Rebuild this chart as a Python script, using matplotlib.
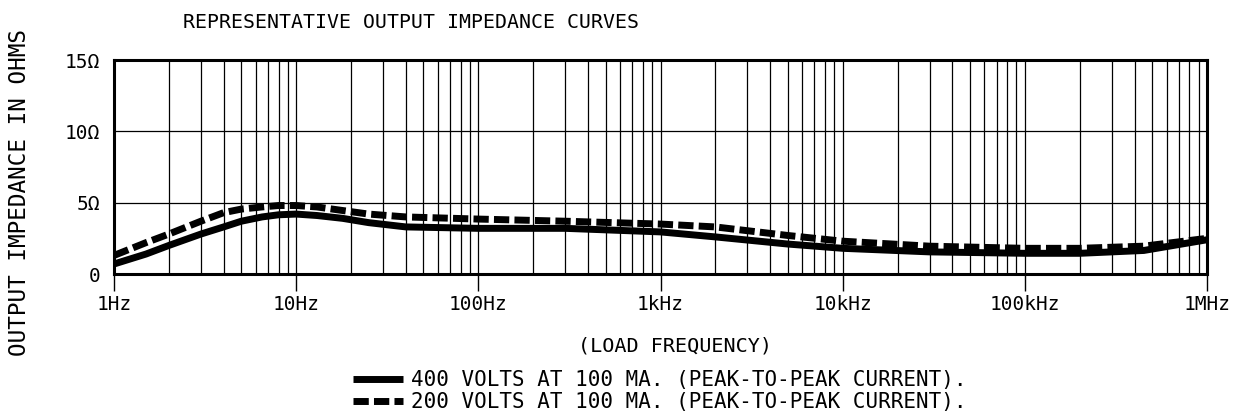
import numpy as np
import matplotlib
matplotlib.use("Agg")
import matplotlib.pyplot as plt
from matplotlib.ticker import FixedLocator, NullFormatter

# Load frequency (Hz) and output impedance (ohms)
freq_hz = [1, 1.5, 2, 3, 4, 5, 6.5, 8, 10, 13, 18, 25, 40, 100, 300, 1000,
           2000, 5000, 10000, 30000, 100000, 200000, 450000, 1000000]
z_400v = [0.7, 1.4, 2.0, 2.8, 3.3, 3.7, 4.0, 4.15, 4.2, 4.1, 3.9, 3.6, 3.3,
          3.2, 3.2, 2.95, 2.6, 2.1, 1.8, 1.55, 1.45, 1.45, 1.65, 2.4]
z_200v = [1.3, 2.2, 2.8, 3.7, 4.3, 4.55, 4.7, 4.8, 4.8, 4.7, 4.45, 4.2, 4.0,
          3.85, 3.7, 3.5, 3.3, 2.7, 2.3, 1.95, 1.8, 1.8, 1.95, 2.5]

x_ticks = [1, 10, 100, 1000, 10000, 100000, 1000000]
x_labels = ["1Hz", "10Hz", "100Hz", "1kHz", "10kHz", "100kHz", "1MHz"]
y_ticks = [0, 5, 10, 15]
y_labels = ["0", "5Ω", "10Ω", "15Ω"]

series_labels = ["400 VOLTS AT 100 MA. (PEAK-TO-PEAK CURRENT).",
                 "200 VOLTS AT 100 MA. (PEAK-TO-PEAK CURRENT)."]

plt.rcParams['font.family'] = ['DejaVu Sans Mono', 'DejaVu Sans']

fig = plt.figure(figsize=(12.35, 4.16), dpi=100)
ax = fig.add_axes([114 / 1235, 1 - 274 / 416, (1207 - 114) / 1235, (274 - 60) / 416])

ax.plot(freq_hz, z_400v, color="black", lw=5, solid_capstyle="butt",
        solid_joinstyle="round", label=series_labels[0], zorder=3)
ax.plot(freq_hz, z_200v, color="black", lw=5, dashes=(2.2, 0.75),
        dash_capstyle="butt", label=series_labels[1], zorder=3)

ax.set_xscale("log")
ax.set_xlim(1, 1000000)
ax.set_ylim(0, 15)

# minor log grid
minor = [m * d for d in x_ticks[:-1] for m in range(2, 10)]
ax.xaxis.set_minor_locator(FixedLocator(minor))
ax.xaxis.set_minor_formatter(NullFormatter())
ax.grid(True, which="minor", axis="x", color="black", lw=0.9)
ax.grid(True, which="major", axis="x", color="black", lw=0.9)
ax.grid(True, which="major", axis="y", color="black", lw=0.9)
ax.set_axisbelow(True)

ax.set_xticks(x_ticks)
ax.set_xticklabels(x_labels, fontsize=14)
ax.set_yticks(y_ticks)
ax.set_yticklabels(y_labels, fontsize=14)
ax.tick_params(axis="x", which="major", direction="out", length=12, width=1, pad=3)
ax.tick_params(axis="x", which="minor", length=0)
ax.tick_params(axis="y", length=0, pad=10)

for s in ax.spines.values():
    s.set_linewidth(2.2)

ax.set_xlabel("(LOAD FREQUENCY)", fontsize=14.5)
ax.xaxis.set_label_coords((675 - 114) / (1207 - 114), -(345 - 274 - 8) / (274 - 60))

fig.text(183 / 1235, 1 - 22 / 416, "REPRESENTATIVE OUTPUT IMPEDANCE CURVES",
         fontsize=14.3, ha="left", va="center")
fig.text(20 / 1235, 1 - 192 / 416, "OUTPUT IMPEDANCE IN OHMS", fontsize=16.3,
         rotation=90, ha="center", va="center")

fig.legend(loc="center left", bbox_to_anchor=(353 / 1235, 1 - 391 / 416),
           frameon=False, fontsize=15, handlelength=2.4, handletextpad=0.4,
           labelspacing=0.1, borderpad=0, borderaxespad=0)

fig.savefig("out.png", dpi=100)
